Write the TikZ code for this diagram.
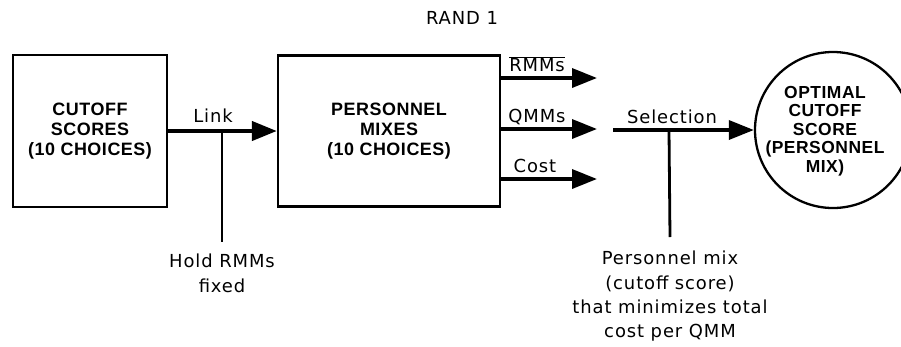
\documentclass[tikz,border=0pt]{standalone}
\usepackage{fontspec}
\setmainfont{Liberation Sans}
\newfontfamily\capfont[LetterSpace=3]{Liberation Sans Bold}
\newfontfamily\txtfont[LetterSpace=5]{DejaVu Sans}
\usetikzlibrary{arrows.meta}
\begin{document}
\begin{tikzpicture}[x=1bp,y=-1bp,
  capsty/.style={font=\capfont\fontsize{18}{20}\selectfont, align=center, inner sep=0},
  circsty/.style={font=\capfont\fontsize{17.5}{18.5}\selectfont, align=center, inner sep=0},
  txtsty/.style={font=\txtfont\fontsize{18}{24.3}\selectfont, align=center, inner sep=0},
  box/.style={draw, line width=2.3bp, rectangle},
  flow/.style={line width=3.5bp, -{Triangle[length=25bp,width=19bp]}},
  tie/.style={line width=2.8bp}]
\useasboundingbox (0,0) rectangle (901,346);
\node[txtsty] (title) at (462,18) {RAND 1};
\node[box, capsty, minimum width=154bp, minimum height=152bp] (cut) at (90,131) {CUTOFF\\SCORES\\(10 CHOICES)};
\node[box, capsty, minimum width=222bp, minimum height=151bp] (mix) at (389,131) {PERSONNEL\\MIXES\\(10 CHOICES)};
\node[draw, circle, line width=2.3bp, minimum size=156bp] (opt) at (833,130) {};
\node[circsty] (opttxt) at (825,131) {OPTIMAL\\CUTOFF\\SCORE\\(PERSONNEL\\MIX)};
% link
\draw[flow, line width=4.2bp] (cut.east) -- (mix.west);
\node[txtsty] (link) at (213,116) {Link};
\coordinate (j1) at (222,131);
\node[txtsty, anchor=north, inner ysep=12bp] (hold) at (222,242) {Hold RMMs\\fixed};
\draw[tie] (j1) -- (hold.north);
% outputs
\coordinate (e1) at (597,78);
\coordinate (e2) at (597,129);
\coordinate (e3) at (597,179);
\draw[flow] (mix.east |- e1) -- (e1);
\draw[flow] (mix.east |- e2) -- (e2);
\draw[flow] (mix.east |- e3) -- (e3);
\node[txtsty] (rmm) at (537,64) {$\overline{\hbox{\txtfont\fontsize{18}{20}\selectfont RMMs}}$};
\node[txtsty] (qmm) at (537,117) {QMMs};
\node[txtsty] (cost) at (535,166) {Cost};
% selection
\coordinate (s0) at (613,130);
\draw[flow] (s0) -- (opt.west);
\node[txtsty] (sel) at (672,117) {Selection};
\coordinate (j2) at (669,130);
\node[txtsty, anchor=north, inner ysep=14bp] (pmix) at (670,237) {Personnel mix\\(cutoff score)\\that minimizes total\\cost per QMM};
\draw[tie] (j2) -- (pmix.north);
\end{tikzpicture}
\end{document}
